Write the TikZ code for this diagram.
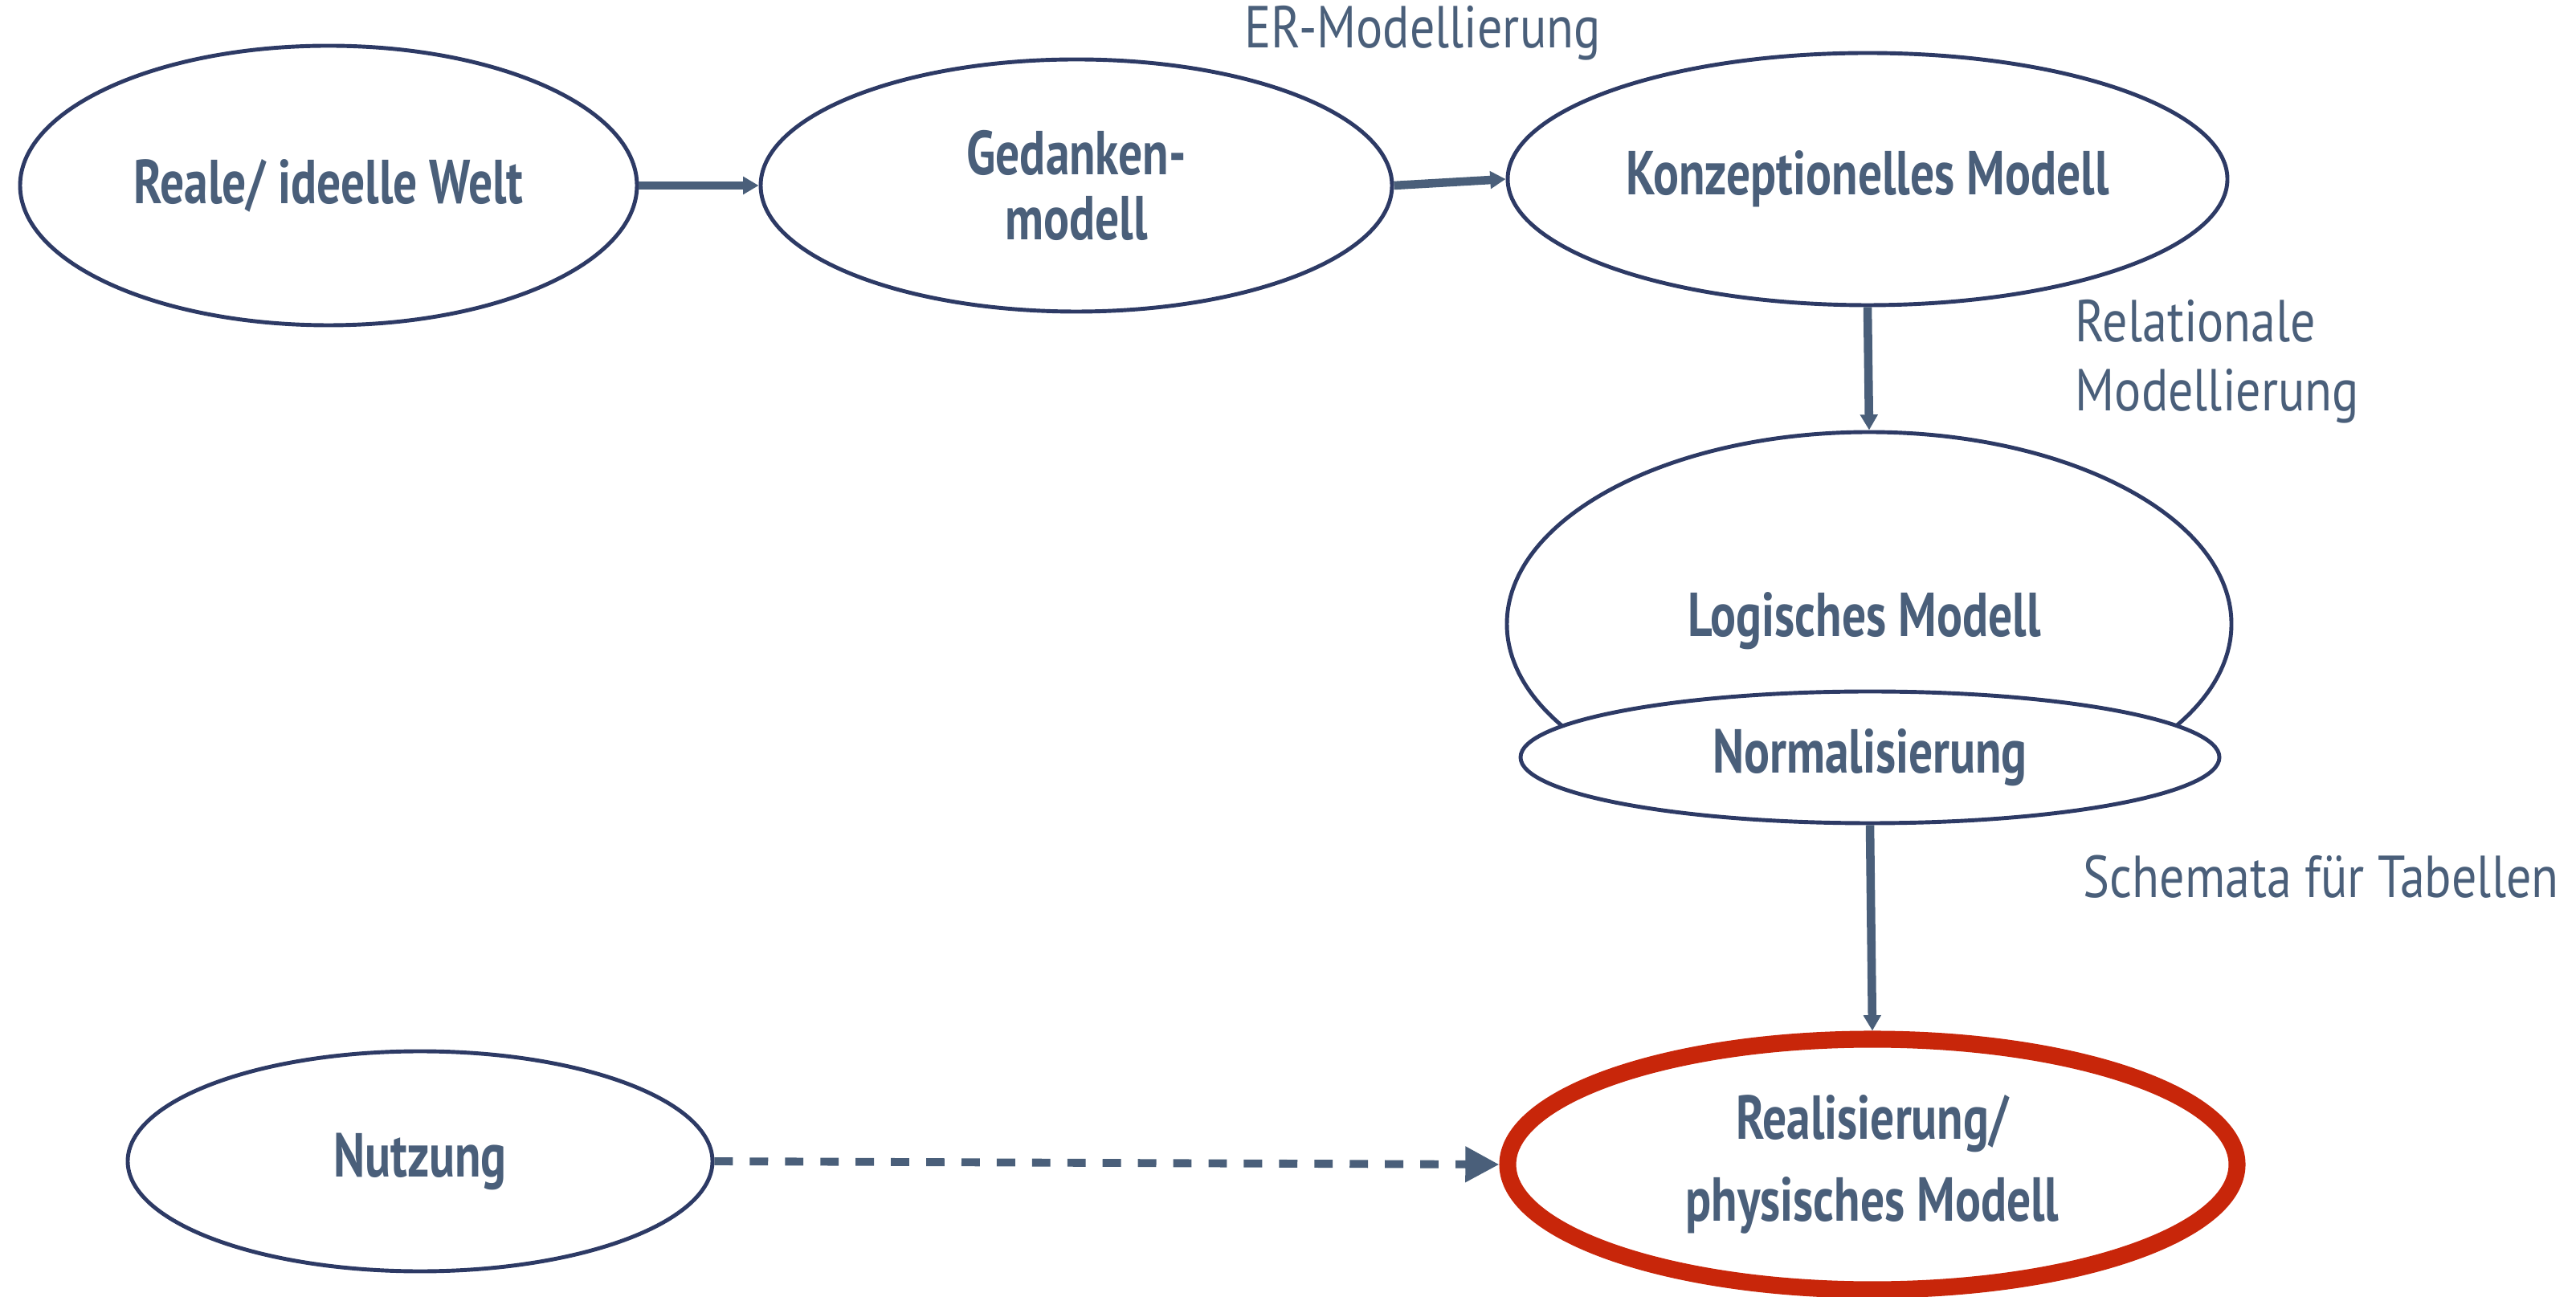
\documentclass[tikz,border=0pt]{standalone}
\usepackage{fontspec}
\setmainfont{PT Sans}
\newfontfamily\condfont[FakeStretch=0.77]{PT Sans}
\newfontfamily\notizfont[FakeStretch=0.84]{PT Sans}
\usepackage{tikz}
\usetikzlibrary{
	shapes.geometric,
	positioning,
	arrows.meta
}
\definecolor{rand}{HTML}{2D3A65}
\definecolor{schrift}{HTML}{4A5F7A}
\definecolor{rot}{HTML}{C8260A}

\tikzset{
	phase/.style={ellipse, draw=rand, line width=1.4pt, inner sep=0pt, fill=white,
		text=schrift, align=center,
		font=\condfont\bfseries\fontsize{22}{25.5}\selectfont},
	pfeil/.style={draw=schrift, line width=3pt, -{Triangle[length=5.5pt,width=6pt]}},
	notiz/.style={text=schrift, align=left, inner sep=0pt,
		font=\notizfont\fontsize{21}{24.5}\selectfont}
}

\begin{document}
\begin{tikzpicture}
	\useasboundingbox (0,0) rectangle (32.07,-16.15);

	% obere Reihe
	\node[phase, minimum width=7.68cm, minimum height=3.48cm] (welt) at (4.09,-2.31) {Reale/ ideelle Welt};
	\node[phase, minimum width=7.86cm, minimum height=3.14cm] (gedanken) at (13.40,-2.31) {Gedanken-\\[-0.08cm]modell};
	\node[phase, minimum width=8.96cm, minimum height=3.14cm] (konzept) at (23.25,-2.23) {Konzeptionelles Modell};

	% Mitte
	\node[phase, minimum width=9.02cm, minimum height=4.78cm] (logisch) at (23.27,-7.77) {};
	\node[text=schrift, font=\condfont\bfseries\fontsize{22}{25.5}\selectfont] (logtext) at (23.21,-7.73) {Logisches Modell};
	\node[phase, minimum width=8.70cm, minimum height=1.64cm] (norm) at (23.28,-9.43) {Normalisierung};

	% untere Reihe
	\node[phase, minimum width=7.28cm, minimum height=2.74cm] (nutzung) at (5.23,-14.46) {Nutzung};
	\node[phase, draw=rot, line width=6pt, minimum width=9.08cm, minimum height=3.12cm] (real) at (23.31,-14.50) {Realisierung/\\[0.12cm]physisches Modell};

	% Beschriftungen
	\node[notiz, anchor=center] (er) at (17.71,-0.41) {ER-Modellierung};
	\node[notiz, anchor=west] (rel) at (25.83,-4.50) {Relationale\\Modellierung};
	\node[notiz, anchor=west] (schema) at (25.93,-10.92) {Schemata für Tabellen};

	% Pfeile
	\draw[pfeil] (welt.east) -- (gedanken.west);
	\draw[pfeil] (gedanken.east) -- (konzept.west);
	\draw[pfeil] (konzept.south) -- (logisch.north);
	\draw[pfeil] (norm.south) -- (real.north);
	\draw[draw=schrift, line width=2.8pt, dash pattern=on 6.5pt off 6pt,
		-{Triangle[length=12pt,width=12pt]}] (nutzung.east) -- (real.west);
\end{tikzpicture}
\end{document}
